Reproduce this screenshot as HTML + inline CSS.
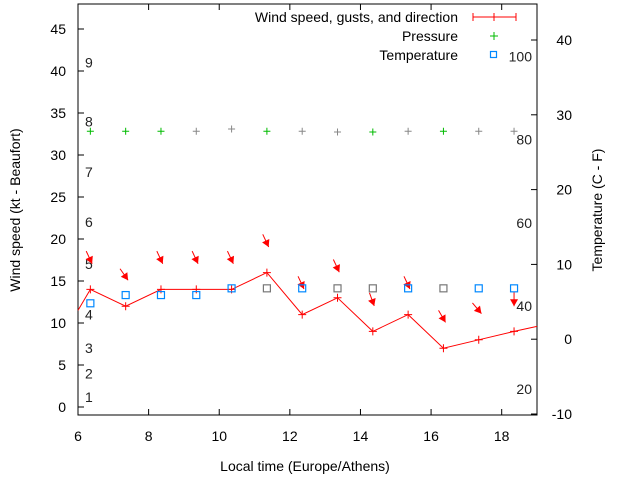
<!DOCTYPE html>
<html><head><meta charset="utf-8"><style>
body{margin:0;background:#fff}
svg{display:block;font-family:"Liberation Sans",sans-serif}
</style></head><body>
<svg id="c" width="640" height="480"></svg>
<script>
const times=[6.35,7.35,8.35,9.35,10.35,11.35,12.35,13.35,14.35,15.35,16.35,17.35,18.35];
const wind=[14,12,14,14,14,16,11,13,9,11,7,8,9];
const windStart=11.5, windEnd=9.6;
const gusts=[17.5,15.5,17.5,17.5,17.5,19.5,14.5,16.5,12.5,14.5,10.5,11.5,12.5];
const dirs=[335,325,335,335,335,335,335,335,340,335,330,320,0];
const pressure=[27.8,27.8,27.8,27.8,28.1,27.8,27.8,27.7,27.7,27.8,27.8,27.8,27.8];
const pressureGrey=[0,0,0,1,1,0,1,1,0,1,0,1,1];
const temps=[4.8,5.9,5.9,5.9,6.8,6.8,6.8,6.8,6.8,6.8,6.8,6.8,6.8];
const tempGrey=[0,0,0,0,0,1,0,1,1,0,1,0,0];
const xTicks=[6,8,10,12,14,16,18];
const yTicks=[0,5,10,15,20,25,30,35,40,45];
const y2Ticks=[-10,0,10,20,30,40];
const beaufort=[[1,1.2],[2,4],[3,7],[4,11],[5,17],[6,22],[7,28],[8,34],[9,41]];
const fahr=[20,40,60,80,100];
const L=78,R=537,T=4,B=415;
const X=v=>L+(v-6)*(R-L)/13;
const Y=v=>407-v*8.4;
const Y2=v=>414-(v+10)*7.48;
const s=document.getElementById('c');const NS='http://www.w3.org/2000/svg';
function el(t,a,txt){const e=document.createElementNS(NS,t);for(const k in a)e.setAttribute(k,a[k]);if(txt!==undefined)e.textContent=txt;s.appendChild(e);return e;}
let e;
e=el('rect',{x:L,y:T,width:R-L,height:B-T,fill:'none',stroke:'#000','stroke-width':1});

xTicks.forEach(v=>{const x=X(v);
e=el('line',{x1:x,y1:B,x2:x,y2:B-6,stroke:'#000'});
e=el('line',{x1:x,y1:T,x2:x,y2:T+6,stroke:'#000'});
e=el('text',{x:x,y:441,'text-anchor':'middle','font-size':14},v);});
yTicks.forEach(v=>{const y=Y(v);
e=el('line',{x1:L,y1:y,x2:L+6,y2:y,stroke:'#000'});
e=el('text',{x:L-12,y:y+5,'text-anchor':'end','font-size':14},v);});
y2Ticks.forEach(v=>{const y=Y2(v);
e=el('line',{x1:R,y1:y,x2:R-6,y2:y,stroke:'#000'});
e=el('text',{x:R+35,y:y+5,'text-anchor':'end','font-size':14},v);});
beaufort.forEach(([n,kt])=>{e=el('text',{x:85,y:Y(kt)+5,'font-size':14,fill:'#222'},n);});
fahr.forEach(f=>{const c=(f-32)*5/9;e=el('text',{x:532,y:Y2(c)+5,'text-anchor':'end','font-size':14,fill:'#222'},f);});
e=el('text',{x:20,y:210,'text-anchor':'middle','font-size':14,transform:'rotate(-90 20 210)'},'Wind speed (kt - Beaufort)');
e=el('text',{x:602,y:210,'text-anchor':'middle','font-size':14,transform:'rotate(-90 602 210)'},'Temperature (C - F)');
e=el('text',{x:305,y:471,'text-anchor':'middle','font-size':14},'Local time (Europe/Athens)');
// wind line
let pts=[[L,Y(windStart)]].concat(times.map((t,i)=>[X(t),Y(wind[i])])).concat([[R,Y(windEnd)]]);
e=el('polyline',{points:pts.map(p=>p.join(',')).join(' '),fill:'none',stroke:'#f00','stroke-width':1});
times.forEach((t,i)=>{const x=X(t),y=Y(wind[i]);
e=el('path',{d:`M${x-4},${y}H${x+4}M${x},${y-4}V${y+4}`,stroke:'#f00'});
const a=dirs[i]*Math.PI/180;const gx=x,gy=Y(gusts[i]);const len=14;
const sx=gx-Math.sin(a)*len*-1, sy=gy-Math.cos(a)*len;
const dx=Math.sin(-a)*-1,dy=Math.cos(a);
const x0=gx-(-Math.sin(a))*len*0.5-0, y0=gy-len*0.7*dy;
const ux=-Math.sin(a),uy=Math.cos(a);
const tx=gx+ux*len*0.3+ (i<12?0:0), ty=gy+uy*len*0.3;
const fx=tx-ux*len,fy=ty-uy*len;
e=el('line',{x1:fx,y1:fy,x2:tx,y2:ty,stroke:'#f00','stroke-width':1});
const px=-uy,py=ux;
e=el('polygon',{points:`${tx},${ty} ${tx-ux*7+px*4},${ty-uy*7+py*4} ${tx-ux*7-px*4},${ty-uy*7-py*4}`,fill:'#f00'});
});
times.forEach((t,i)=>{const x=X(t),y=Y2(pressure[i]);
e=el('path',{d:`M${x-3.5},${y}H${x+3.5}M${x},${y-3.5}V${y+3.5}`,stroke:pressureGrey[i]?'#888':'#0b0'});
const ty=Y2(temps[i]);
e=el('rect',{x:x-3.5,y:ty-3.5,width:7,height:7,fill:'none',stroke:tempGrey[i]?'#777':'#08f','stroke-width':1.2});});
// legend
e=el('text',{x:458,y:22,'text-anchor':'end','font-size':14},'Wind speed, gusts, and direction');
e=el('path',{d:'M473,17H516M473,13V21M516,13V21M494,13V21',stroke:'#f00'});
e=el('text',{x:458,y:41,'text-anchor':'end','font-size':14},'Pressure');
e=el('path',{d:'M490,36H498M494,32V40',stroke:'#0b0'});
e=el('text',{x:458,y:60,'text-anchor':'end','font-size':14},'Temperature');
e=el('rect',{x:490.5,y:51.5,width:6,height:6,fill:'none',stroke:'#08f','stroke-width':1.2});
</script>
</body></html>
